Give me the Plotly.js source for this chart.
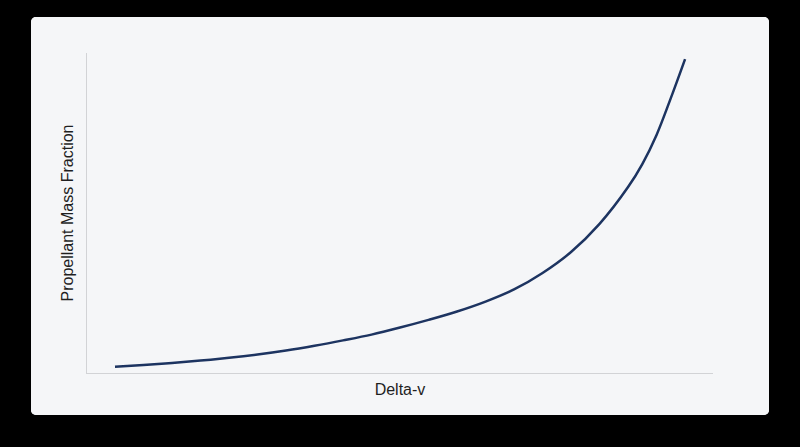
<!DOCTYPE html>
<html>
<head>
<meta charset="utf-8">
<script src="https://cdn.plot.ly/plotly-3.0.1.min.js"></script>
<style>
  html, body { margin: 0; padding: 0; background: #000; width: 800px; height: 447px; overflow: hidden; }
  #card { position: absolute; left: 31px; top: 17px; width: 738px; height: 398px;
          background: #f5f6f8; border-radius: 5px; overflow: hidden; }
  #myDiv { width: 738px; height: 398px; }
</style>
</head>
<body>
<div id="card"><div id="myDiv"></div></div>
<script>
// delta-v (arbitrary units) and propellant mass fraction
var deltaV = [0, 0.5, 1, 1.5, 2, 2.5, 3, 3.5, 4, 4.5, 5, 5.5, 6, 6.5, 7, 7.5,
              8, 8.5, 9, 9.25, 9.5, 9.75, 10];
var massFraction = [0.0197, 0.025, 0.0313, 0.0388, 0.0475, 0.0578, 0.0703, 0.0853,
                    0.102, 0.120, 0.142, 0.166, 0.192, 0.223, 0.261, 0.3125,
                    0.378, 0.466, 0.581, 0.653, 0.744, 0.859, 0.981];

var trace1 = {
  x: deltaV,
  y: massFraction,
  mode: 'lines',
  type: 'scatter',
  line: { color: '#1d3461', width: 2.5, shape: 'spline' },
  hoverinfo: 'none'
};

var layout = {
  width: 738,
  height: 398,
  margin: { l: 56, r: 56, t: 36, b: 42 },
  paper_bgcolor: '#f5f6f8',
  plot_bgcolor: '#f5f6f8',
  showlegend: false,
  font: { family: '"Liberation Sans", Arial, sans-serif', color: '#1f1f1f', size: 16 },
  xaxis: {
    range: [-0.491, 10.49],
    showgrid: false,
    zeroline: false,
    showticklabels: false,
    ticks: '',
    showline: true,
    linecolor: '#d2d3d6',
    linewidth: 1,
    title: { text: 'Delta-v', font: { size: 16, color: '#1f1f1f' }, standoff: 10 }
  },
  yaxis: {
    range: [0, 1],
    showgrid: false,
    zeroline: false,
    showticklabels: false,
    ticks: '',
    showline: true,
    linecolor: '#d2d3d6',
    linewidth: 1,
    title: { text: 'Propellant Mass Fraction', font: { size: 16, color: '#1f1f1f' }, standoff: 8 }
  }
};

Plotly.newPlot('myDiv', [trace1], layout, { displayModeBar: false, staticPlot: true });
</script>
</body>
</html>
